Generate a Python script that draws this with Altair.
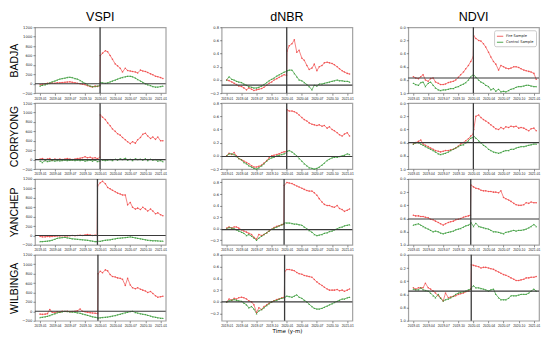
import altair as alt
import pandas as pd

SITES = ["BADJA", "CORRYONG", "YANCHEP", "WILBINGA"]
INDICES = ["VSPI", "dNBR", "NDVI"]
SERIES = ["Fire Sample", "Control Sample"]

DATES_BEFORE = ["2019-01-01", "2019-01-15", "2019-02-01", "2019-02-15", "2019-03-01", "2019-03-15",
                "2019-04-01", "2019-04-15", "2019-05-01", "2019-05-15", "2019-06-01", "2019-06-15",
                "2019-07-01", "2019-07-15", "2019-08-01", "2019-08-15", "2019-09-01", "2019-09-15",
                "2019-10-01", "2019-10-15", "2019-11-01", "2019-11-15", "2019-12-01"]
DATES_AFTER = ["2020-01-15", "2020-02-01", "2020-02-15", "2020-03-01", "2020-03-15", "2020-04-01",
               "2020-04-15", "2020-05-01", "2020-05-15", "2020-06-01", "2020-06-15", "2020-07-01",
               "2020-07-15", "2020-08-01", "2020-08-15", "2020-09-01", "2020-09-15", "2020-10-01",
               "2020-10-15", "2020-11-01", "2020-11-15", "2020-12-01", "2020-12-15", "2021-01-01",
               "2021-01-15"]
FIRE_WINDOW = {
    "BADJA": ["2019-12-15", "2019-12-30", "2020-01-02"],
    "CORRYONG": ["2019-12-15", "2019-12-30", "2020-01-02"],
    "YANCHEP": ["2019-12-13", "2019-12-16", "2020-01-01"],
    "WILBINGA": ["2019-12-16", "2019-12-19", "2020-01-01"],
}
FIRE_DATE = {"BADJA": "2019-12-31", "CORRYONG": "2019-12-31",
             "YANCHEP": "2019-12-15", "WILBINGA": "2019-12-18"}

# ---- series values ----
badja_vspi_fire = [-20, -10, 0, 10, 5, 15, 10, 20, 20, 25, 30, 35, 40, 30, 20, 10, 0, -10, -20, -40,
                   -60, -70, -50, -60, -40, 600, 650, 700, 680, 600, 520, 420, 380, 330, 250, 330, 280, 270, 260, 250,
                   230, 290, 270, 260, 240, 210, 190, 160, 150, 130, 110]
badja_vspi_control = [-50, -30, -20, 0, 20, 40, 60, 80, 100, 110, 120, 135, 140, 130, 110, 100, 70, 40, 10, -20,
                      -50, -60, -60, -50, -40, 30, 20, 10, 20, 40, 60, 80, 100, 120, 135, 150, 160, 160, 150, 120,
                      90, 60, 30, 0, -20, -40, -60, -70, -70, -60, -50]
badja_dnbr_fire = [0.0, -0.01, -0.03, -0.05, -0.07, -0.09, -0.1, -0.12, -0.15, -0.12, -0.14, -0.16, -0.15, -0.14,
                   -0.13, -0.11, -0.08, -0.05, -0.03, 0.0, 0.02, 0.04, 0.06, 0.08, 0.07, 0.44, 0.52, 0.55, 0.61, 0.42,
                   0.45, 0.33, 0.3, 0.22, 0.16, 0.18, 0.24, 0.14, 0.2, 0.22, 0.26, 0.27, 0.26, 0.25, 0.23, 0.2,
                   0.17, 0.14, 0.12, 0.1, 0.09]
badja_dnbr_control = [0.0, 0.05, 0.01, 0.0, -0.02, -0.03, -0.04, -0.06, -0.08, -0.1, -0.11, -0.12, -0.12, -0.11,
                      -0.09, -0.07, -0.04, -0.01, 0.01, 0.03, 0.06, 0.08, 0.1, 0.12, 0.13, 0.14, 0.15, 0.15, 0.1,
                      0.05, 0.0, -0.01, -0.04, -0.07, -0.1, -0.15, -0.08, -0.09, -0.06, -0.06, -0.05, -0.04, -0.03,
                      -0.02, -0.01, 0.0, -0.01, -0.01, -0.02, -0.02, -0.03]
badja_ndvi_fire = [0.75, 0.77, 0.78, 0.75, 0.72, 0.8, 0.82, 0.78, 0.77, 0.83, 0.85, 0.87, 0.87, 0.86, 0.84, 0.83,
                   0.82, 0.8, 0.76, 0.72, 0.68, 0.63, 0.58, 0.52, 0.45, 0.13, 0.17, 0.2, 0.21, 0.25, 0.3, 0.38,
                   0.45, 0.52, 0.56, 0.65, 0.58, 0.6, 0.62, 0.63, 0.62, 0.6, 0.6, 0.61, 0.63, 0.65, 0.66, 0.67,
                   0.68, 0.7, 0.79]
badja_ndvi_control = [0.85, 0.87, 0.88, 0.84, 0.83, 0.9, 0.85, 0.83, 0.88, 0.92, 0.95, 0.96, 0.95, 0.95, 0.94,
                      0.93, 0.93, 0.91, 0.9, 0.88, 0.86, 0.84, 0.8, 0.75, 0.72, 0.72, 0.76, 0.8, 0.83, 0.85, 0.88,
                      0.9, 0.95, 0.93, 0.97, 0.94, 0.98, 0.97, 0.98, 0.96, 0.94, 0.93, 0.91, 0.9, 0.9, 0.89, 0.88,
                      0.88, 0.89, 0.9, 0.9]

corryong_vspi_fire = [10, 20, 0, 10, 20, -10, 10, 0, 10, 0, 10, 20, 10, 0, 10, 20, 30, 40, 60, 40,
                      50, 30, 40, 20, 50, 950, 900, 850, 780, 720, 650, 600, 550, 520, 470, 420, 380, 340, 380, 350,
                      420, 470, 540, 560, 500, 450, 480, 430, 480, 400, 400]
corryong_vspi_control = [-30, -60, -20, -40, -30, -20, -30, -20, -25, -20, -10, -20, -15, -10, -20, -10, -20, -10,
                         -30, -20, -10, -30, -10, -40, -30, 10, -10, -20, -10, 0, -20, 10, -10, 20, 0, 30, -10, 10,
                         -20, 20, 0, 10, -10, 20, -20, 10, -10, 0, -30, -20, -40]
corryong_dnbr_fire = [0.0, 0.04, 0.02, 0.05, 0.0, -0.04, -0.06, -0.08, -0.1, -0.12, -0.15, -0.17, -0.17, -0.16,
                      -0.14, -0.11, -0.07, -0.03, 0.0, 0.01, 0.02, 0.03, 0.05, 0.06, 0.07, 0.7, 0.68, 0.68, 0.67,
                      0.65, 0.62, 0.58, 0.55, 0.53, 0.5, 0.48, 0.47, 0.46, 0.47, 0.45, 0.46, 0.42, 0.44, 0.4, 0.38,
                      0.35, 0.32, 0.3, 0.33, 0.35, 0.3]
corryong_dnbr_control = [0.0, 0.03, 0.03, 0.02, -0.01, -0.04, -0.06, -0.1, -0.12, -0.15, -0.17, -0.19, -0.2, -0.18,
                         -0.15, -0.12, -0.08, -0.05, -0.03, -0.02, 0.0, 0.01, 0.02, 0.03, 0.05, 0.07, 0.08, 0.06,
                         0.03, 0.0, -0.04, -0.08, -0.12, -0.15, -0.18, -0.19, -0.2, -0.19, -0.17, -0.14, -0.11,
                         -0.07, -0.05, -0.03, -0.02, -0.02, -0.01, 0.0, 0.01, 0.03, 0.02]
corryong_ndvi_fire = [0.62, 0.6, 0.58, 0.56, 0.62, 0.64, 0.66, 0.68, 0.7, 0.72, 0.73, 0.74, 0.73, 0.72, 0.72, 0.71,
                      0.7, 0.68, 0.65, 0.62, 0.6, 0.57, 0.54, 0.5, 0.47, 0.4, 0.2, 0.18, 0.22, 0.25, 0.27, 0.3,
                      0.33, 0.36, 0.39, 0.4, 0.37, 0.39, 0.36, 0.37, 0.35, 0.36, 0.35, 0.38, 0.37, 0.38, 0.4, 0.42,
                      0.39, 0.38, 0.42]
corryong_ndvi_control = [0.62, 0.6, 0.6, 0.62, 0.64, 0.66, 0.68, 0.7, 0.72, 0.74, 0.77, 0.78, 0.77, 0.76, 0.74,
                         0.72, 0.7, 0.68, 0.66, 0.64, 0.63, 0.6, 0.57, 0.53, 0.52, 0.5, 0.53, 0.57, 0.6, 0.64, 0.66,
                         0.7, 0.72, 0.74, 0.75, 0.76, 0.75, 0.73, 0.72, 0.72, 0.7, 0.7, 0.68, 0.67, 0.66, 0.66, 0.65,
                         0.64, 0.63, 0.62, 0.62]

yanchep_vspi_fire = [-20, -30, -30, -20, -25, -20, -15, -10, -10, -5, -10, -10, -5, 0, -5, 0, 5, 0, 10, 20,
                     10, 0, 5, 0, 1050, 1120, 1150, 1100, 1020, 990, 960, 930, 900, 880, 860, 860, 650, 700, 600, 560,
                     580, 550, 600, 560, 520, 560, 520, 460, 480, 440, 420]
yanchep_vspi_control = [-130, -130, -125, -120, -110, -100, -80, -60, -50, -45, -40, -50, -60, -70, -75, -80, -85,
                        -90, -95, -100, -110, -120, -130, -130, -120, -125, -110, -100, -95, -90, -80, -70, -60,
                        -55, -50, -45, -40, -30, -40, -50, -60, -70, -80, -90, -100, -105, -110, -110, -115, -120,
                        -120]
yanchep_dnbr_fire = [0.01, 0.03, 0.01, 0.03, 0.03, 0.01, -0.02, -0.04, -0.06, -0.08, -0.1, -0.15, -0.18, -0.1,
                     -0.12, -0.1, -0.07, -0.04, -0.01, 0.02, 0.04, 0.05, 0.07, 0.08, 0.75, 0.8, 0.79, 0.78, 0.76,
                     0.74, 0.72, 0.7, 0.68, 0.66, 0.65, 0.65, 0.62, 0.58, 0.52, 0.46, 0.42, 0.4, 0.4, 0.38, 0.37,
                     0.4, 0.35, 0.33, 0.3, 0.32, 0.34]
yanchep_dnbr_control = [0.0, 0.02, 0.01, 0.0, -0.02, -0.04, -0.06, -0.08, -0.12, -0.1, -0.13, -0.16, -0.2, -0.16,
                        -0.13, -0.1, -0.07, -0.04, -0.01, 0.01, 0.03, 0.05, 0.07, 0.08, 0.1, 0.1, 0.1, 0.09, 0.08,
                        0.08, 0.07, 0.06, 0.03, 0.0, -0.03, -0.06, -0.1, -0.12, -0.11, -0.1, -0.08, -0.07, -0.05,
                        -0.04, -0.02, 0.0, 0.02, 0.03, 0.05, 0.06, 0.07]
yanchep_ndvi_fire = [0.55, 0.56, 0.56, 0.57, 0.57, 0.58, 0.59, 0.61, 0.62, 0.64, 0.66, 0.68, 0.7, 0.68, 0.66, 0.65,
                     0.64, 0.62, 0.61, 0.6, 0.58, 0.57, 0.56, 0.55, 0.09, 0.12, 0.14, 0.15, 0.17, 0.18, 0.18, 0.19,
                     0.19, 0.2, 0.2, 0.21, 0.18, 0.28, 0.3, 0.32, 0.34, 0.37, 0.39, 0.4, 0.4, 0.39, 0.36, 0.37,
                     0.35, 0.36, 0.36]
yanchep_ndvi_control = [0.7, 0.69, 0.68, 0.7, 0.72, 0.74, 0.76, 0.78, 0.8, 0.79, 0.8, 0.82, 0.83, 0.82, 0.81, 0.8,
                        0.79, 0.77, 0.76, 0.75, 0.73, 0.71, 0.7, 0.68, 0.66, 0.72, 0.67, 0.72, 0.73, 0.74, 0.75,
                        0.76, 0.78, 0.8, 0.8, 0.81, 0.82, 0.83, 0.81, 0.8, 0.79, 0.78, 0.79, 0.78, 0.78, 0.77, 0.76,
                        0.74, 0.72, 0.69, 0.72]

wilbinga_vspi_fire = [-60, -65, -60, -50, 40, -20, -30, -10, -20, 0, -5, 0, -10, -5, 0, 10, 50, 0, -10, -20,
                      -30, -35, -40, -50, 800, 850, 820, 880, 860, 780, 740, 730, 710, 700, 680, 550, 700, 560, 500,
                      480, 500, 470, 450, 430, 400, 420, 380, 330, 300, 310, 320]
wilbinga_vspi_control = [-130, -125, -115, -105, -90, -70, -50, -30, -20, -10, 0, -5, -10, -15, -20, -30, -40, -55,
                         -70, -85, -100, -115, -125, -135, -140, -135, -130, -125, -120, -110, -100, -90, -75, -60,
                         -45, -30, -20, -5, 0, -25, -35, -50, -60, -70, -85, -100, -115, -125, -135, -145, -150]
wilbinga_dnbr_fire = [0.0, 0.05, 0.03, 0.06, 0.05, 0.07, 0.08, 0.07, 0.05, 0.02, 0.0, -0.05, -0.18, -0.1, -0.13,
                      -0.08, -0.05, -0.02, 0.0, 0.02, 0.04, 0.05, 0.07, 0.08, 0.52, 0.55, 0.55, 0.54, 0.53, 0.5,
                      0.48, 0.47, 0.45, 0.44, 0.43, 0.42, 0.38, 0.34, 0.31, 0.28, 0.25, 0.22, 0.2, 0.2, 0.2, 0.21,
                      0.19, 0.2, 0.18, 0.2, 0.22]
wilbinga_dnbr_control = [0.0, 0.02, 0.03, 0.04, 0.03, 0.02, 0.01, -0.02, -0.05, -0.1, -0.08, -0.12, -0.2, -0.15,
                         -0.13, -0.1, -0.06, -0.03, 0.0, 0.02, 0.03, 0.05, 0.06, 0.07, 0.08, 0.1, 0.09, 0.08, 0.1,
                         0.12, 0.08, 0.06, 0.03, 0.0, -0.04, -0.08, -0.11, -0.12, -0.12, -0.11, -0.09, -0.07, -0.05,
                         -0.03, -0.01, 0.01, 0.03, 0.05, 0.05, 0.07, 0.08]
wilbinga_ndvi_fire = [0.5, 0.52, 0.5, 0.5, 0.5, 0.43, 0.5, 0.52, 0.55, 0.58, 0.62, 0.65, 0.7, 0.58, 0.65, 0.64,
                      0.63, 0.62, 0.6, 0.59, 0.58, 0.56, 0.55, 0.52, 0.15, 0.16, 0.17, 0.18, 0.2, 0.19, 0.19, 0.2,
                      0.21, 0.22, 0.24, 0.26, 0.28, 0.3, 0.31, 0.33, 0.35, 0.37, 0.39, 0.39, 0.38, 0.37, 0.35,
                      0.35, 0.34, 0.34, 0.33]
wilbinga_ndvi_control = [0.52, 0.53, 0.53, 0.5, 0.53, 0.54, 0.55, 0.58, 0.62, 0.65, 0.6, 0.66, 0.7, 0.68, 0.67,
                         0.65, 0.63, 0.6, 0.58, 0.57, 0.56, 0.55, 0.53, 0.52, 0.5, 0.47, 0.5, 0.5, 0.51, 0.52, 0.53,
                         0.55, 0.53, 0.52, 0.6, 0.65, 0.68, 0.68, 0.68, 0.66, 0.62, 0.62, 0.62, 0.61, 0.6, 0.6, 0.6,
                         0.58, 0.55, 0.52, 0.55]

DATA = {
    ("BADJA", "VSPI"): (badja_vspi_fire, badja_vspi_control),
    ("BADJA", "dNBR"): (badja_dnbr_fire, badja_dnbr_control),
    ("BADJA", "NDVI"): (badja_ndvi_fire, badja_ndvi_control),
    ("CORRYONG", "VSPI"): (corryong_vspi_fire, corryong_vspi_control),
    ("CORRYONG", "dNBR"): (corryong_dnbr_fire, corryong_dnbr_control),
    ("CORRYONG", "NDVI"): (corryong_ndvi_fire, corryong_ndvi_control),
    ("YANCHEP", "VSPI"): (yanchep_vspi_fire, yanchep_vspi_control),
    ("YANCHEP", "dNBR"): (yanchep_dnbr_fire, yanchep_dnbr_control),
    ("YANCHEP", "NDVI"): (yanchep_ndvi_fire, yanchep_ndvi_control),
    ("WILBINGA", "VSPI"): (wilbinga_vspi_fire, wilbinga_vspi_control),
    ("WILBINGA", "dNBR"): (wilbinga_dnbr_fire, wilbinga_dnbr_control),
    ("WILBINGA", "NDVI"): (wilbinga_ndvi_fire, wilbinga_ndvi_control),
}

# reference (pre-fire baseline) levels
BASELINE = {
    ("BADJA", "VSPI"): 0, ("CORRYONG", "VSPI"): 0, ("YANCHEP", "VSPI"): 0, ("WILBINGA", "VSPI"): 0,
    ("BADJA", "dNBR"): -0.078, ("CORRYONG", "dNBR"): -0.01, ("YANCHEP", "dNBR"): -0.016, ("WILBINGA", "dNBR"): 0.0,
    ("BADJA", "NDVI"): 0.77, ("CORRYONG", "NDVI"): 0.60, ("YANCHEP", "NDVI"): 0.607, ("WILBINGA", "NDVI"): 0.55,
}

Y_DOMAIN = {
    "VSPI": {s: [-200, 1200] for s in SITES},
    "dNBR": {"BADJA": [-0.2, 0.8], "CORRYONG": [-0.2, 0.8], "YANCHEP": [-0.28, 0.86], "WILBINGA": [-0.32, 0.8]},
    "NDVI": {s: [0.0, 1.0] for s in SITES},
}
Y_TICKS = {
    "VSPI": [-200, 0, 200, 400, 600, 800, 1000, 1200],
    "dNBR": [-0.2, 0.0, 0.2, 0.4, 0.6, 0.8],
    "NDVI": [0.0, 0.2, 0.4, 0.6, 0.8, 1.0],
}
Y_FORMAT = {"VSPI": "d", "dNBR": ".1f", "NDVI": ".1f"}
X_TICK_MONTHS = [(2019, 1), (2019, 4), (2019, 7), (2019, 10), (2020, 1), (2020, 4), (2020, 7), (2020, 10), (2021, 1)]

RED = "#f04848"
GREEN = "#2f962f"
PW, PH = 131, 66

for k, (f, c) in DATA.items():
    assert len(f) == 51 and len(c) == 51, (k, len(f), len(c))


def panel(site, index):
    fire, ctrl = DATA[(site, index)]
    dates = DATES_BEFORE + FIRE_WINDOW[site] + DATES_AFTER
    df = pd.DataFrame({
        "date": dates + dates,
        "value": fire + ctrl,
        "series": [SERIES[0]] * len(fire) + [SERIES[1]] * len(ctrl),
    })
    xscale = alt.Scale(type="utc",
                       domain=[alt.DateTime(year=2018, month=12, date=1, utc=True),
                               alt.DateTime(year=2021, month=2, date=1, utc=True)])
    x_title = "Time (y-m)" if (site == "WILBINGA" and index == "dNBR") else None
    xaxis = alt.Axis(values=[alt.DateTime(year=y, month=m, date=1, utc=True) for y, m in X_TICK_MONTHS],
                     labelExpr="utcFormat(datum.value, '%Y-%m')", title=x_title)
    yscale = alt.Scale(domain=Y_DOMAIN[index][site], nice=False, zero=False, reverse=(index == "NDVI"))
    y_title = site if index == "VSPI" else None
    yaxis = alt.Axis(values=Y_TICKS[index], format=Y_FORMAT[index], title=y_title)

    if site == "BADJA" and index == "NDVI":
        legend = alt.Legend(orient="top-right", title=None, labelFontSize=3.6, labelFont="DejaVu Sans",
                            symbolType="stroke", symbolSize=40, symbolStrokeWidth=1, strokeColor="#cccccc",
                            fillColor="white", padding=2, offset=3, rowPadding=0, labelOffset=2,
                            cornerRadius=1.5, labelColor="#222222")
    else:
        legend = None
    color = alt.Color("series:N", scale=alt.Scale(domain=SERIES, range=[RED, GREEN]), legend=legend)

    x = alt.X("date:T", scale=xscale, axis=xaxis)
    y = alt.Y("value:Q", scale=yscale, axis=yaxis)

    base = alt.Chart(df)
    lines = base.mark_line(strokeWidth=0.8, opacity=0.85).encode(x=x, y=y, color=color)
    pts_fire = base.transform_filter(alt.datum.series == SERIES[0]).mark_point(
        filled=True, size=2.5, shape="circle", color=RED, opacity=0.9).encode(x=x, y=y)
    pts_ctrl = base.transform_filter(alt.datum.series == SERIES[1]).mark_point(
        filled=True, size=3, shape="triangle-up", color=GREEN, opacity=0.9).encode(x=x, y=y)
    hrule = alt.Chart(pd.DataFrame({"value": [BASELINE[(site, index)]]})).mark_rule(
        color="#3a3a3a", strokeWidth=1.1).encode(y=y)
    vrule = alt.Chart(pd.DataFrame({"date": [FIRE_DATE[site]]})).mark_rule(
        color="#3a3a3a", strokeWidth=1.3).encode(x=x)

    layer = alt.layer(lines, pts_fire, pts_ctrl, hrule, vrule)
    if site == "BADJA":
        layer = layer.properties(title=alt.TitleParams(index, fontSize=12.5, font="Liberation Sans",
                                                       fontWeight="normal", color="black", offset=2,
                                                       anchor="middle"))
    return layer.properties(width=PW, height=PH)


panels = [panel(s, i) for s in SITES for i in INDICES]
chart = alt.concat(*panels, columns=3, spacing={"row": 10, "column": 56}, bounds="flush").resolve_scale(
    color="independent")

chart = chart.properties(padding={"left": 1, "top": 1, "right": 1, "bottom": 1}).configure_view(
    stroke="#a3a3a3", strokeWidth=1.2
).configure_axis(
    domain=False, grid=False, tickColor="#444444", tickSize=2, tickWidth=0.6,
    labelFontSize=3.7, labelFont="DejaVu Sans", labelColor="#222222", labelPadding=1,
    labelOverlap=False, labelFlush=False,
).configure_axisY(
    titleFont="Liberation Sans", titleFontSize=10.5, titleFontWeight="normal", titleColor="black", titlePadding=2
).configure_axisX(
    labelFont="Liberation Sans", labelFontSize=3.3,
    titleFont="DejaVu Sans", titleFontSize=5.5, titleFontWeight="normal", titleColor="black", titlePadding=2
)

chart.save("out.html", embed_options={"renderer": "svg", "actions": False})
